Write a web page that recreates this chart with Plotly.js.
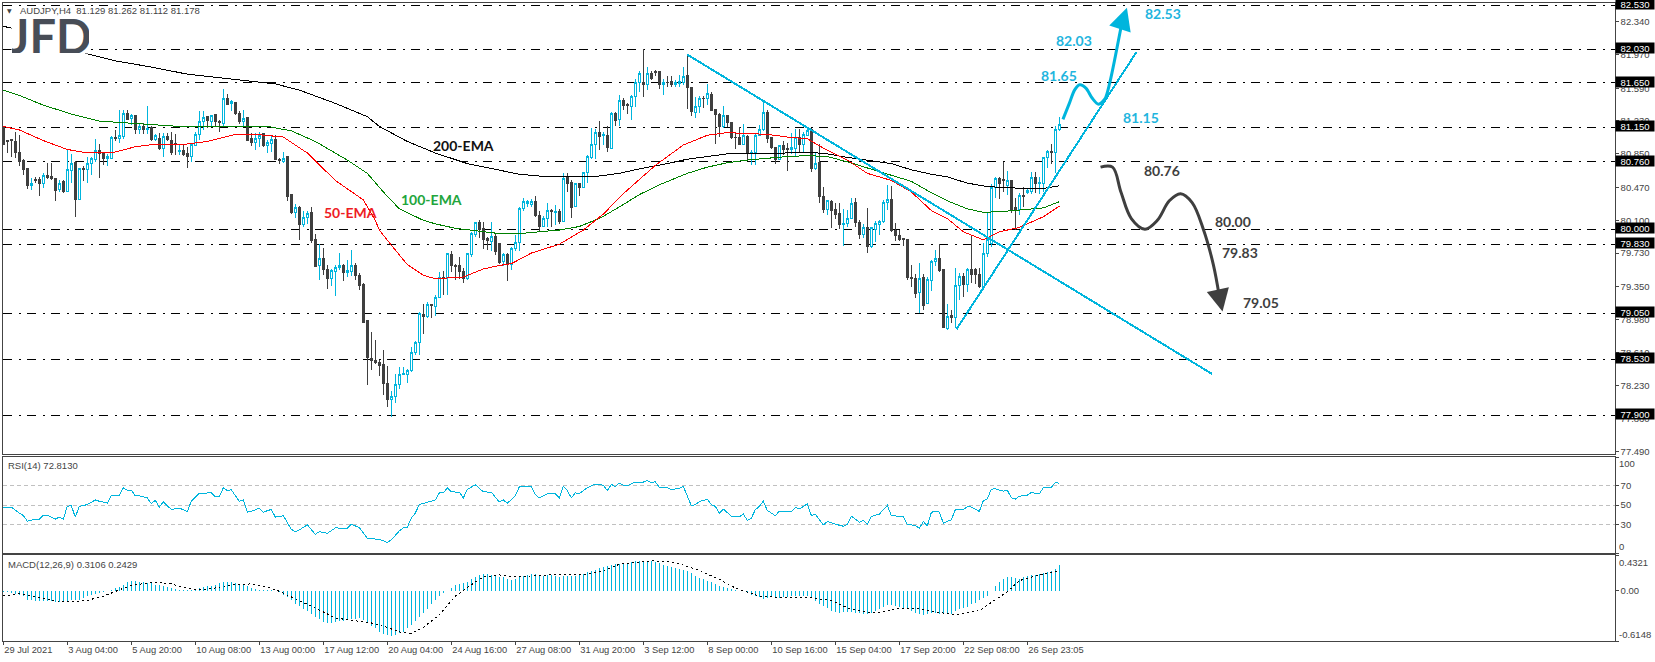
<!DOCTYPE html>
<html><head><meta charset="utf-8">
<script src="https://cdn.plot.ly/plotly-3.0.1.min.js"></script>
<style>html,body{margin:0;padding:0;background:#fff}#c{width:1655px;height:662px}
.scatterlayer .lines path,.boxlayer path,.barlayer path,.shapelayer path{shape-rendering:crispEdges}</style>
</head><body><div id="c"></div>
<script>
const opens=[81.16,81.00,81.01,80.99,80.87,80.78,80.68,80.49,80.56,80.56,
80.51,80.61,80.59,80.57,80.45,80.54,80.43,80.66,80.75,80.34,
80.69,80.67,80.74,80.79,80.89,80.85,80.80,80.80,81.03,81.02,
81.05,81.31,81.25,81.28,81.13,81.16,81.13,81.15,81.01,81.02,
80.91,81.05,81.00,80.97,80.88,80.89,80.85,80.82,80.95,81.07,
81.21,81.27,81.22,81.29,81.21,81.19,81.47,81.42,81.43,81.31,
81.21,81.26,81.02,80.98,81.02,81.08,80.94,80.97,81.01,80.79,
80.76,80.82,80.39,80.19,80.25,80.05,80.13,80.19,79.88,79.59,
79.67,79.55,79.44,79.52,79.57,79.59,79.51,79.52,79.59,79.48,
79.37,78.97,78.54,78.52,78.49,78.47,78.26,78.08,78.11,78.25,
78.36,78.36,78.40,78.61,78.72,79.04,79.01,79.15,79.13,79.23,
79.46,79.46,79.71,79.59,79.59,79.52,79.44,79.71,79.94,80.07,
80.01,79.89,79.86,79.92,79.84,79.63,79.71,79.60,79.78,79.85,
80.23,80.29,80.28,80.31,80.15,80.03,80.12,80.21,80.19,80.20,
80.09,80.58,80.53,80.26,80.51,80.47,80.64,80.81,80.96,81.09,
81.06,81.06,80.91,81.31,81.24,81.45,81.41,81.39,81.50,81.65,
81.66,81.63,81.76,81.78,81.78,81.63,81.66,81.67,81.63,81.64,
81.66,81.73,81.60,81.32,81.38,81.48,81.47,81.52,81.35,81.30,
81.16,81.28,81.20,81.04,81.03,80.96,81.05,80.85,80.87,81.06,
81.12,81.32,81.03,80.92,80.79,80.95,80.91,80.90,80.91,81.04,
80.96,81.06,81.12,80.69,80.75,80.37,80.22,80.31,80.22,80.18,
80.05,80.06,80.12,80.30,80.08,79.94,80.02,79.80,80.00,80.05,
80.09,80.30,80.33,79.99,79.93,79.89,79.88,79.46,79.44,79.28,
79.45,79.16,79.42,79.63,79.67,79.54,78.88,79.03,79.00,79.36,
79.47,79.38,79.55,79.54,79.49,79.35,79.73,79.84,80.47,80.57,
80.56,80.49,80.55,80.24,80.22,80.38,80.41,80.43,80.58,80.51,
80.52,80.81,80.88,80.86,81.129];
const highs=[81.16,81.01,81.01,81.10,81.06,80.79,80.69,80.58,80.59,80.59,
80.63,80.75,80.75,80.58,80.55,80.55,80.91,80.85,80.77,80.69,
80.71,80.82,80.82,81.02,80.96,80.87,80.85,81.05,81.12,81.34,
81.34,81.34,81.30,81.29,81.19,81.20,81.39,81.16,81.07,81.08,
81.08,81.08,81.10,81.07,80.95,80.96,80.93,80.97,81.10,81.33,
81.33,81.27,81.29,81.30,81.23,81.58,81.53,81.46,81.44,81.33,
81.34,81.27,81.08,81.08,81.10,81.09,81.01,81.05,81.06,80.80,
80.87,80.83,80.39,80.28,80.26,80.20,80.20,80.25,79.94,79.83,
79.79,79.60,79.55,79.60,79.73,79.61,79.65,79.77,79.62,79.50,
79.39,78.97,78.84,78.75,78.52,78.64,78.45,78.17,78.36,78.44,
78.44,78.42,78.67,78.74,79.07,79.15,79.18,79.16,79.26,79.52,
79.53,79.72,79.75,79.61,79.69,79.56,79.73,79.97,80.08,80.10,
80.08,79.91,80.08,79.95,79.84,79.73,79.73,79.80,79.93,80.25,
80.35,80.33,80.34,80.37,80.20,80.15,80.30,80.23,80.27,80.23,
80.63,80.63,80.55,80.52,80.52,80.65,80.84,81.14,81.13,81.22,
81.10,81.16,81.32,81.32,81.52,81.48,81.42,81.51,81.70,81.78,
82.03,81.83,81.78,81.80,81.78,81.70,81.73,81.73,81.68,81.74,
81.83,81.97,81.61,81.49,81.50,81.50,81.64,81.55,81.36,81.31,
81.39,81.29,81.21,81.08,81.15,81.19,81.06,80.89,81.08,81.18,
81.43,81.34,81.04,80.93,80.95,80.99,80.97,81.08,81.13,81.13,
81.10,81.14,81.14,80.87,80.96,80.48,80.33,80.33,80.29,80.29,
80.23,80.22,80.35,80.35,80.10,80.06,80.24,80.03,80.09,80.10,
80.33,80.50,80.49,80.07,79.99,79.90,79.89,79.60,79.49,79.62,
79.49,79.46,79.65,79.76,79.83,79.55,79.16,79.09,79.56,79.50,
79.50,79.56,79.93,79.56,79.56,79.84,80.18,80.51,80.59,80.59,
80.76,80.66,80.55,80.35,80.41,80.48,80.46,80.65,80.65,80.59,
80.82,80.89,80.96,81.16,81.262];
const lows=[80.95,80.86,80.81,80.80,80.71,80.61,80.45,80.44,80.52,80.38,
80.46,80.57,80.55,80.32,80.42,80.41,80.42,80.52,80.14,80.33,
80.54,80.52,80.61,80.76,80.58,80.72,80.71,80.79,80.99,80.97,
81.02,81.23,81.18,81.07,81.07,81.07,81.07,81.00,81.00,80.89,
80.82,80.99,80.84,80.84,80.84,80.83,80.69,80.76,80.94,81.01,
81.12,81.14,81.16,81.16,81.10,81.16,81.40,81.33,81.29,81.19,
81.17,80.99,80.94,80.89,80.93,80.93,80.86,80.87,80.78,80.74,
80.75,80.32,80.17,80.13,79.88,80.02,80.06,79.84,79.58,79.43,
79.48,79.32,79.36,79.24,79.54,79.41,79.46,79.47,79.43,79.31,
78.94,78.24,78.41,78.48,78.34,78.13,77.99,77.88,78.04,78.20,
78.35,78.26,78.39,78.58,78.58,78.82,79.00,79.00,79.02,79.22,
79.26,79.26,79.52,79.43,79.44,79.39,79.43,79.69,79.91,79.90,
79.78,79.76,79.75,79.71,79.61,79.58,79.41,79.54,79.75,79.75,
80.20,80.25,80.25,80.14,79.98,80.02,80.03,80.03,80.05,80.06,
80.08,80.42,80.13,80.25,80.38,80.46,80.52,80.79,80.79,80.89,
80.95,80.87,80.90,81.17,81.17,81.34,81.30,81.23,81.38,81.55,
81.49,81.57,81.68,81.73,81.58,81.52,81.61,81.60,81.60,81.61,
81.63,81.36,81.28,81.26,81.31,81.37,81.40,81.33,80.96,81.04,
81.14,81.15,81.02,80.90,80.95,80.95,80.78,80.73,80.73,81.06,
81.11,80.97,80.91,80.74,80.78,80.84,80.66,80.85,80.82,80.86,
80.86,81.05,80.65,80.67,80.30,80.18,80.16,80.01,80.12,80.00,
79.81,80.02,80.11,80.03,79.89,79.90,79.73,79.79,79.86,79.93,
80.07,80.22,79.97,79.87,79.87,79.81,79.43,79.35,79.22,79.05,
79.09,79.15,79.30,79.58,79.52,78.88,78.86,78.94,78.88,79.20,
79.23,79.29,79.39,79.38,79.34,79.34,79.69,79.80,80.35,80.34,
80.42,80.39,80.18,79.99,80.16,80.25,80.40,80.40,80.41,80.40,
80.42,80.69,80.74,80.63,81.112];
const closes=[80.96,80.99,81.00,80.87,80.76,80.67,80.49,80.51,80.55,80.51,
80.61,80.58,80.57,80.44,80.52,80.42,80.67,80.74,80.34,80.69,
80.67,80.74,80.80,80.89,80.85,80.80,80.82,81.04,81.02,81.06,
81.31,81.24,81.28,81.12,81.16,81.12,81.14,81.01,81.06,80.91,
81.05,81.01,80.87,80.96,80.89,80.84,80.82,80.96,81.07,81.22,
81.26,81.23,81.28,81.21,81.20,81.47,81.41,81.44,81.31,81.22,
81.25,81.00,80.98,81.02,81.06,80.94,80.98,81.01,80.79,80.78,
80.80,80.37,80.19,80.24,80.05,80.13,80.18,79.87,79.58,79.67,
79.55,79.44,79.53,79.57,79.59,79.51,79.53,79.59,79.48,79.36,
78.95,78.55,78.52,78.49,78.46,78.26,78.08,78.11,78.25,78.36,
78.37,78.41,78.61,78.72,79.05,79.01,79.15,79.14,79.23,79.46,
79.45,79.72,79.59,79.58,79.52,79.44,79.72,79.95,80.07,80.00,
79.88,79.87,79.92,79.75,79.62,79.71,79.60,79.78,79.85,80.23,
80.31,80.31,80.31,80.15,80.03,80.12,80.21,80.20,80.20,80.09,
80.57,80.52,80.25,80.51,80.47,80.64,80.82,80.96,81.09,81.05,
81.07,80.92,81.31,81.23,81.45,81.40,81.40,81.50,81.65,81.76,
81.63,81.76,81.70,81.77,81.63,81.66,81.65,81.63,81.65,81.67,
81.72,81.60,81.33,81.39,81.48,81.47,81.53,81.34,81.29,81.16,
81.28,81.20,81.03,81.03,80.96,81.06,80.85,80.87,81.06,81.12,
81.32,81.02,80.92,80.79,80.94,80.90,80.90,80.92,81.04,80.96,
81.07,81.11,80.69,80.74,80.37,80.22,80.32,80.21,80.17,80.05,
80.06,80.12,80.29,80.07,79.94,80.02,79.80,80.02,80.06,80.09,
80.30,80.33,79.98,79.93,79.88,79.88,79.45,79.44,79.27,79.44,
79.14,79.43,79.63,79.67,79.53,78.89,79.01,79.00,79.36,79.47,
79.38,79.55,79.49,79.49,79.35,79.73,79.88,80.47,80.57,80.51,
80.55,80.55,80.22,80.22,80.38,80.37,80.44,80.58,80.52,80.53,
80.81,80.88,80.86,81.129,81.178];

const ema200Idx=[0,2,21,28,37,46,56,68,74,83,91,94,101,108,116,124,129,134,139,144,149,154,159,166,171,176,181,186,191,196,201,206,211,216,222,227,232,236,241,246,250,255,260,264];
const ema200=[82.29,82.27,81.98,81.90,81.83,81.75,81.70,81.64,81.57,81.42,81.27,81.16,80.99,80.86,80.74,80.67,80.62,80.60,80.59,80.59,80.60,80.63,80.68,80.74,80.79,80.82,80.85,80.855,80.855,80.86,80.87,80.85,80.81,80.78,80.74,80.67,80.62,80.59,80.52,80.48,80.47,80.46,80.46,80.49];
const ema100Idx=[0,4,10,17,24,33,44,54,66,72,78,86,91,95,99,105,108,113,118,124,129,134,139,144,149,154,159,164,171,176,181,186,191,196,201,206,211,216,222,227,232,236,241,245,250,255,260,264];
const ema100=[81.57,81.51,81.40,81.30,81.22,81.19,81.16,81.16,81.16,81.11,80.99,80.78,80.63,80.42,80.23,80.10,80.06,80.01,79.98,79.95,79.95,79.97,79.99,80.03,80.12,80.25,80.39,80.50,80.63,80.70,80.75,80.78,80.80,80.82,80.83,80.82,80.76,80.69,80.61,80.54,80.41,80.32,80.23,80.19,80.20,80.22,80.24,80.31];
const ema50Idx=[0,4,10,16,21,27,33,38,44,51,58,63,70,76,83,88,90,93,94,97,101,105,108,115,120,124,127,132,139,145,150,155,163,170,176,181,186,191,196,201,206,211,216,222,227,232,236,240,245,249,254,256,260,264];
const ema50=[81.16,81.12,81.00,80.90,80.86,80.86,80.93,80.96,80.95,80.99,81.07,81.07,81.04,80.86,80.55,80.39,80.33,80.10,79.99,79.82,79.60,79.48,79.44,79.46,79.55,79.59,79.61,79.73,79.83,79.99,80.17,80.40,80.72,80.95,81.06,81.09,81.08,81.07,81.04,81.02,80.89,80.78,80.63,80.55,80.42,80.21,80.12,79.97,79.88,79.97,80.02,80.06,80.14,80.26];

const rsiIdx=[0,2,4,5,6,8,9,10,11,13,14,15,16,17,18,19,21,23,24,26,27,29,30,31,32,33,34,36,37,38,39,40,42,44,46,47,49,52,53,54,55,56,57,59,60,61,62,64,65,67,68,70,72,73,74,76,78,79,81,83,86,87,89,91,94,96,97,99,100,101,102,103,104,106,108,109,110,111,112,114,115,116,118,120,122,124,125,126,128,129,132,133,134,136,
137,138,139,140,141,142,143,144,146,148,150,151,152,153,154,155,156,158,160,161,162,163,164,166,167,169,170,171,172,173,174,176,177,178,179,180,182,184,185,186,187,188,189,190,191,193,194,197,198,199,201,202,203,205,206,208,210,211,212,214,215,216,217,219,221,222,225,226,228,229,230,231,232,233,234,235,237,238,240,241,242,244,245,246,247,248,250,251,252,253,254,256,257,259,260,262,263,264];
const rsi=[47.9,47.9,41.6,39.1,33.2,35.3,35.3,39.5,39.5,35.3,37.4,35.3,48.6,49.3,37.4,48.6,50.4,55.3,53.9,52.1,59.8,60.2,67.9,65.4,65.4,59.5,59.5,57.4,51.4,54.9,47.9,53.2,45.4,46.8,43.3,53.9,62.3,62.6,58.4,58.4,67.9,65.1,65.8,53.9,55.3,42.6,43.3,46.8,42.6,45.4,37.4,38.8,24.7,22.3,24.0,29.3,19.5,22.3,20.5,26.1,25.8,30.0,26.5,15.3,14.2,11.1,13.5,23.0,26.1,26.8,36.3,41.6,50.4,53.2,55.3,62.6,62.6,67.9,63.7,63.3,57.4,66.1,71.1,63.7,63.3,53.2,55.3,51.8,59.5,68.9,68.9,60.9,57.4,61.6,
61.6,61.6,57.4,69.3,65.1,57.4,62.6,61.9,67.9,71.8,70.7,65.1,71.4,69.3,72.8,70.7,70.0,73.9,73.9,75.3,73.2,74.2,68.6,67.9,66.1,67.2,69.3,59.1,49.3,50.4,53.5,56.0,50.4,48.6,41.6,45.8,38.4,37.7,40.5,34.2,36.3,45.1,48.6,53.9,44.4,38.8,43.7,43.0,47.5,45.8,51.1,39.1,40.5,29.3,32.8,30.0,27.9,30.0,38.4,32.1,34.2,30.0,38.1,40.5,49.6,39.1,37.7,30.0,28.6,25.8,32.8,28.2,42.3,43.7,42.6,31.1,34.6,45.1,45.1,48.2,47.9,43.3,54.6,56.3,66.5,66.8,64.4,65.4,57.4,56.0,59.1,60.2,63.0,61.6,67.9,68.6,73.2,72.81];

const macdHist=[-.02,-.02,-.03,-.04,-.05,-.07,-.11,-.12,-.13,-.13,
-.13,-.13,-.13,-.14,-.14,-.14,-.13,-.12,-.12,-.11,
-.09,-.07,-.05,-.04,-.03,-.02,-.01,.01,.03,.04,
.07,.10,.11,.11,.10,.10,.09,.09,.07,.07,
.05,.04,.03,.02,.01,.004,.004,.002,.01,.03,
.045,.05,.06,.07,.09,.10,.10,.10,.09,.08,
.065,.05,.03,.02,.01,.004,.002,.004,-.01,-.02,
-.05,-.08,-.11,-.16,-.19,-.23,-.25,-.29,-.325,-.35,
-.38,-.39,-.39,-.38,-.37,-.37,-.36,-.35,-.345,-.34,
-.365,-.40,-.435,-.46,-.50,-.53,-.545,-.55,-.54,-.52,
-.50,-.455,-.415,-.375,-.325,-.27,-.22,-.17,-.12,-.07,
-.03,-.004,.03,.065,.08,.09,.105,.135,.17,.19,
.195,.195,.19,.19,.17,.16,.145,.125,.135,.16,
.175,.19,.20,.20,.18,.175,.19,.19,.175,.17,
.175,.175,.18,.18,.19,.20,.22,.235,.255,.275,
.29,.295,.31,.32,.325,.335,.34,.35,.355,.36,
.36,.36,.355,.345,.335,.31,.30,.285,.27,.265,
.255,.235,.21,.175,.155,.135,.12,.105,.085,.06,
.04,.03,.02,.004,-.004,-.01,-.03,-.05,-.065,-.08,
-.10,-.09,-.085,-.09,-.09,-.085,-.08,-.07,-.07,-.07,
-.065,-.065,-.09,-.13,-.16,-.19,-.21,-.245,-.265,-.27,
-.265,-.26,-.26,-.27,-.275,-.285,-.285,-.27,-.25,-.23,
-.20,-.18,-.18,-.19,-.20,-.21,-.23,-.25,-.27,-.29,
-.30,-.29,-.27,-.27,-.285,-.29,-.29,-.285,-.245,-.23,
-.21,-.195,-.17,-.15,-.12,-.09,-.07,-.003,.06,.105,
.145,.165,.17,.155,.145,.16,.175,.19,.19,.195,
.21,.22,.235,.265,.3106];
const signalIdx=[0,4,8,12,16,21,25,29,32,38,42,46,49,53,57,62,66,69,73,76,80,83,89,92,96,99,102,105,109,113,117,120,124,128,133,137,145,150,154,159,162,166,170,174,179,183,189,194,202,207,211,216,220,224,229,233,238,244,247,251,254,259,264];
const signal=[-.065,-.04,-.08,-.12,-.14,-.12,-.07,.004,.065,.10,.08,.025,.01,.03,.07,.08,.045,-.01,-.10,-.17,-.26,-.335,-.375,-.395,-.45,-.505,-.52,-.45,-.295,-.07,.07,.165,.19,.165,.18,.19,.195,.235,.32,.35,.36,.355,.31,.245,.135,.03,-.07,-.085,-.09,-.12,-.21,-.27,-.26,-.22,-.22,-.26,-.295,-.245,-.15,-.015,.12,.19,.2429];

const levels=[82.53,82.03,81.65,81.15,80.76,80.00,79.83,79.05,78.53,77.90];
const priceTicks=[82.34,81.97,81.59,81.23,80.85,80.47,80.10,79.73,79.35,78.98,78.61,78.23,77.86,77.49];
const rsiLevels=[70,50,30];
const timeIdx=[0,16,32,48,64,80,96,112,128,144,160,176,192,208,224,240,256];
const timeLabels=["29 Jul 2021","3 Aug 04:00","5 Aug 20:00","10 Aug 08:00","13 Aug 00:00","17 Aug 12:00","20 Aug 04:00","24 Aug 16:00","27 Aug 08:00","31 Aug 20:00","3 Sep 12:00","8 Sep 00:00","10 Sep 16:00","15 Sep 04:00","17 Sep 20:00","22 Sep 08:00","26 Sep 23:05"];

const downTrendIdx=[171,302.2], downTrend=[81.97,78.365];
const upTrendIdx=[238.3,283.3], upTrend=[78.87,82.00];
const bullPathIdx=[264.9,266.5,267.8,269.1,270.7,272.2,273.8,275.4,276.6,278,279.6];
const bullPath=[81.24,81.42,81.57,81.63,81.59,81.48,81.41,81.47,81.65,81.95,82.32];
const bearPathIdx=[274.3,277.3,279.4,282,285.4,288.5,291.5,294.3,297.2,300,302.5,304];
const bearPath=[80.70,80.70,80.42,80.12,80.00,80.10,80.32,80.40,80.30,80.00,79.60,79.24];
const cyanNotes=[["82.53",289.9,82.43],["82.03",267.7,82.13],["81.65",263.8,81.74],["81.15",284.3,81.255]];
const darkNotes=[["80.76",289.6,80.66],["80.00",307.4,80.09],["79.83",309.2,79.74],["79.05",314.4,79.17]];

const CY='#00b5dd',DK='#3f3f3f',TXT='#444444';
const idx=opens.map((_,i)=>i);
const XR=[-0.2,402.84], W=1655, H=662;
const dx=[2.5/W,1614.7/W];
const dom=(a,b)=>[1-b/H,1-a/H];
const TF={family:'Liberation Sans',size:9.5,color:TXT};

const traces=[
 {type:'candlestick',x:idx,open:opens,high:highs,low:lows,close:closes,xaxis:'x',yaxis:'y',
  increasing:{line:{color:CY,width:1},fillcolor:'#ffffff'},
  decreasing:{line:{color:DK,width:1},fillcolor:DK},whiskerwidth:0},
 {type:'scatter',mode:'lines',x:ema200Idx,y:ema200,line:{color:'#000000',width:1},xaxis:'x',yaxis:'y'},
 {type:'scatter',mode:'lines',x:ema100Idx,y:ema100,line:{color:'#008000',width:1},xaxis:'x',yaxis:'y'},
 {type:'scatter',mode:'lines',x:ema50Idx,y:ema50,line:{color:'#ff0000',width:1},xaxis:'x',yaxis:'y'},
 {type:'scatter',mode:'lines',x:downTrendIdx,y:downTrend,line:{color:CY,width:2},xaxis:'x',yaxis:'y'},
 {type:'scatter',mode:'lines',x:upTrendIdx,y:upTrend,line:{color:CY,width:2},xaxis:'x',yaxis:'y'},
 {type:'scatter',mode:'lines',x:bullPathIdx,y:bullPath,line:{color:CY,width:3,shape:'spline',smoothing:0.8},xaxis:'x',yaxis:'y'},
 {type:'scatter',mode:'lines',x:bearPathIdx,y:bearPath,line:{color:DK,width:3,shape:'spline',smoothing:1},xaxis:'x',yaxis:'y'},
 {type:'scatter',mode:'lines',x:rsiIdx,y:rsi,line:{color:CY,width:1},xaxis:'x2',yaxis:'y2'},
 {type:'bar',x:idx,y:macdHist,width:0.3,marker:{color:CY,line:{width:0}},xaxis:'x3',yaxis:'y3'},
 {type:'scatter',mode:'lines',x:signalIdx,y:signal,line:{color:'#000000',width:1,dash:'2px,3px'},xaxis:'x3',yaxis:'y3'}
];

const xBase={range:XR,domain:dx,showgrid:false,zeroline:false,showline:true,mirror:true,linecolor:'#444444',linewidth:1,ticks:'',showticklabels:false,fixedrange:true};
const yBase={side:'right',showgrid:false,zeroline:false,showline:true,mirror:true,linecolor:'#444444',linewidth:1,ticks:'outside',ticklen:3,tickcolor:'#444444',tickfont:TF,tickmode:'array',fixedrange:true};

const shapes=[];
levels.forEach(v=>shapes.push({type:'line',xref:'x domain',yref:'y',x0:0,x1:1,y0:v,y1:v,layer:'below',line:{color:'#000000',width:1,dash:'9px,7px,2px,6px'}}));
rsiLevels.forEach(v=>shapes.push({type:'line',xref:'x2 domain',yref:'y2',x0:0,x1:1,y0:v,y1:v,layer:'below',line:{color:'#c0c0c0',width:1,dash:'4px,3px'}}));

const NF={family:'Lato',size:14,weight:700};
const ann=[];
const put=(text,px,py,o={})=>ann.push(Object.assign({text,xref:'paper',yref:'paper',x:px/W,y:1-py/H,xanchor:'left',yanchor:'middle',showarrow:false,font:TF,borderpad:0},o));
cyanNotes.forEach(n=>ann.push({text:'<b>'+n[0]+'</b>',x:n[1],y:n[2],xref:'x',yref:'y',showarrow:false,font:Object.assign({},NF,{color:'#1fb5de'})}));
darkNotes.forEach(n=>ann.push({text:'<b>'+n[0]+'</b>',x:n[1],y:n[2],xref:'x',yref:'y',showarrow:false,font:Object.assign({},NF,{color:DK})}));
ann.push({text:'<b>200-EMA</b>',x:115,y:80.94,xref:'x',yref:'y',showarrow:false,font:Object.assign({},NF,{color:'#111111'})});
ann.push({text:'<b>100-EMA</b>',x:107.1,y:80.34,xref:'x',yref:'y',showarrow:false,font:Object.assign({},NF,{color:'#22a53c'})});
ann.push({text:'<b>50-EMA</b>',x:86.9,y:80.19,xref:'x',yref:'y',showarrow:false,font:Object.assign({},NF,{color:'#ee1c25'})});
levels.forEach(v=>ann.push({text:v.toFixed(3),xref:'paper',yref:'y',x:1,y:v,xanchor:'right',yanchor:'middle',yshift:1,showarrow:false,
  width:38,height:10,bgcolor:'#000000',borderpad:0,font:{family:'Liberation Sans',size:9.5,color:'#ffffff'}}));
ann.push({x:280.9,y:82.50,ax:279.6,ay:82.32,xref:'x',yref:'y',axref:'x',ayref:'y',text:'',showarrow:true,arrowhead:2,arrowsize:1.5,arrowwidth:3,arrowcolor:CY,standoff:0});
ann.push({x:304.8,y:79.07,ax:304,ay:79.24,xref:'x',yref:'y',axref:'x',ayref:'y',text:'',showarrow:true,arrowhead:2,arrowsize:1.5,arrowwidth:3,arrowcolor:DK,standoff:0});
put('AUDJPY,H4&nbsp;&nbsp;81.129 81.262 81.112 81.178',18.5,10.5,{font:{family:'Liberation Sans',size:9.5,color:TXT}});
put('▼',6,10.5,{font:{family:'DejaVu Sans',size:6,color:TXT}});
put('JFD',11,36,{font:{family:'Lato',size:47,weight:700,color:'#474d57'},bgcolor:'#ffffff',width:77,height:35});
put('RSI(14) 72.8130',7,465.7,{font:{family:'Liberation Sans',size:9.5,color:TXT}});
put('MACD(12,26,9) 0.3106 0.2429',7,564.3,{font:{family:'Liberation Sans',size:9.5,color:TXT}});
put('100',1618,463.3); put('0',1618,546.3);
put('0.4321',1618,562.7); put('-0.6148',1618,634);

const layout={width:W,height:H,autosize:false,margin:{l:0,r:0,t:0,b:0,pad:0},paper_bgcolor:'#ffffff',plot_bgcolor:'#ffffff',showlegend:false,hovermode:false,bargap:0,
 xaxis:Object.assign({},xBase,{anchor:'y',rangeslider:{visible:false}}),
 xaxis2:Object.assign({},xBase,{anchor:'y2'}),
 xaxis3:Object.assign({},xBase,{anchor:'y3',ticks:'outside',ticklen:3,tickcolor:'#444444',showticklabels:true,tickmode:'array',tickvals:timeIdx,ticktext:timeLabels,tickangle:0,ticklabelposition:'outside right',tickfont:{family:'Liberation Sans',size:9.3,color:TXT}}),
 yaxis:Object.assign({},yBase,{anchor:'x',domain:dom(3,454),range:[77.462,82.553],tickvals:priceTicks,ticktext:priceTicks.map(v=>v.toFixed(3))}),
 yaxis2:Object.assign({},yBase,{anchor:'x2',domain:dom(457,553),range:[0,100],tickvals:[100,70,50,30,0],ticktext:['','70','50','30','']}),
 yaxis3:Object.assign({},yBase,{anchor:'x3',domain:dom(555,641),range:[-0.6148,0.4321],tickvals:[0.4321,0,-0.6148],ticktext:['','0.00','']}),
 shapes,annotations:ann};
Plotly.newPlot('c',traces,layout,{staticPlot:true,displayModeBar:false}).then(()=>{
 document.querySelectorAll('.scatterlayer .lines path').forEach(p=>{if(parseFloat(p.style.strokeWidth)>=3)p.style.shapeRendering='geometricPrecision';});
});
</script></body></html>
